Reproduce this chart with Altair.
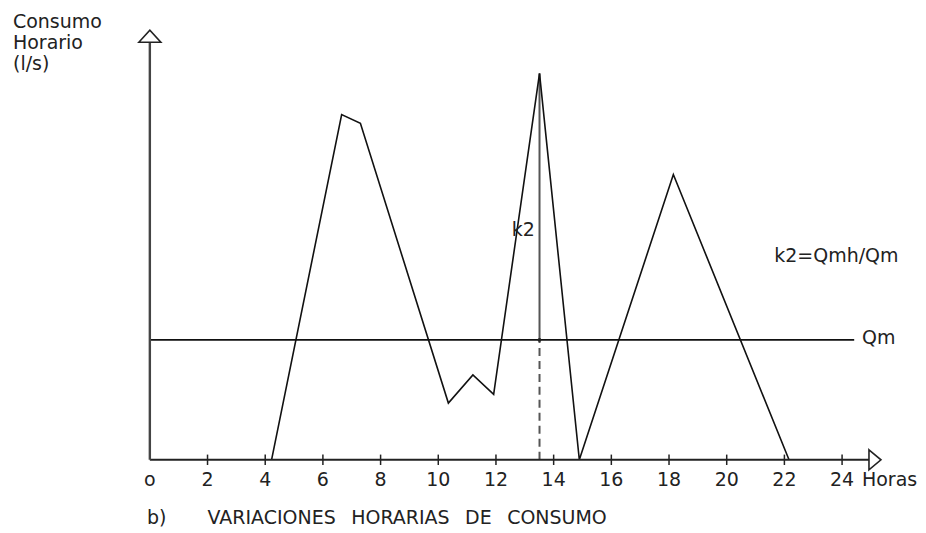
import altair as alt
import pandas as pd

# ---- data ----
HOURS = [4.22, 6.65, 7.30, 10.35, 11.20, 11.92, 13.51, 14.89, 18.15, 22.16]
CONSUMO = [0, 86.4, 84.2, 14.2, 21.25, 16.4, 96.7, 0, 71.4, 0]
QM = 30
PEAK_HOUR = 13.51
PEAK_VALUE = 96.7
TICK_HOURS = [2, 4, 6, 8, 10, 12, 14, 16, 18, 20, 22, 24]
LABEL_HOURS = [0, 2, 4, 6, 8, 10, 12, 14, 16, 18, 20, 22, 24]
LABEL_TEXT = ["o", "2", "4", "6", "8", "10", "12", "14", "16", "18", "20", "22", "24"]
Y_TITLE = ["Consumo", "Horario", "(l/s)"]
X_TITLE = "Horas"
CAPTION_LETTER = "b)"
CAPTION_WORDS = ["VARIACIONES", "HORARIAS", "DE", "CONSUMO"]

FONT = "DejaVu Sans"
FS = 19
INK = "#222222"

xs = alt.Scale(domain=[0, 24], nice=False, zero=False)
ys = alt.Scale(domain=[0, 100], nice=False, zero=False)


def xd(v):
    return alt.XDatum(v, type="quantitative", scale=xs, axis=None)


def yd(v):
    return alt.YDatum(v, type="quantitative", scale=ys, axis=None)


line_df = pd.DataFrame({"hora": HOURS, "consumo": CONSUMO})
tick_df = pd.DataFrame({"hora": TICK_HOURS})
lab_df = pd.DataFrame({"hora": LABEL_HOURS, "label": LABEL_TEXT})

base = alt.Chart(pd.DataFrame({"a": [0]}))

# axes
x_axis = base.mark_rule(color="#222", strokeWidth=2).encode(
    x=xd(0), x2=alt.X2Datum(24.94), y=yd(0))
y_axis = base.mark_rule(color="#444", strokeWidth=2.4).encode(
    x=xd(0), y=yd(0), y2=alt.Y2Datum(104.5))
x_arrow = base.mark_point(shape="M-0.6,-1L0.6,0L-0.6,1Z", size=400, filled=True,
                          fill="white", stroke="#222", strokeWidth=1.6, opacity=1).encode(
    x=xd(25.14), y=yd(0))
y_arrow = base.mark_point(shape="M-1,0.545L0,-0.545L1,0.545Z", size=484, filled=True,
                          fill="white", stroke="#222", strokeWidth=1.6, opacity=1).encode(
    x=xd(0), y=yd(106))

ticks = alt.Chart(tick_df).mark_rule(color="#222", strokeWidth=1.5).encode(
    x=alt.X("hora:Q", scale=xs, axis=None), y=yd(-1.3), y2=alt.Y2Datum(1.3))
tick_labels = alt.Chart(lab_df).mark_text(font=FONT, fontSize=FS, color=INK,
                                          baseline="middle", align="center").encode(
    x=alt.X("hora:Q", scale=xs, axis=None), y=yd(-5), text="label:N")

# consumption curve
curve = alt.Chart(line_df).mark_line(color="#111", strokeWidth=1.6).encode(
    x=alt.X("hora:Q", scale=xs, axis=None), y=alt.Y("consumo:Q", scale=ys, axis=None))

# Qm line and k2 vertical
qm_line = base.mark_rule(color="#111", strokeWidth=1.6).encode(
    x=xd(0), x2=alt.X2Datum(24.42), y=yd(QM))
k2_solid = base.mark_rule(color="#555", strokeWidth=2).encode(
    x=xd(PEAK_HOUR), y=yd(QM), y2=alt.Y2Datum(PEAK_VALUE))
k2_dash = base.mark_rule(color="#555", strokeWidth=2, strokeDash=[8, 5]).encode(
    x=xd(PEAK_HOUR), y=yd(0), y2=alt.Y2Datum(QM))
k2_dot = base.mark_circle(color="#222", size=14, opacity=1).encode(
    x=xd(PEAK_HOUR), y=yd(QM))

# texts
def txt(t, x, y, align="left", baseline="middle", **kw):
    return base.mark_text(text=t, font=FONT, fontSize=FS, color=INK, align=align,
                          baseline=baseline, **kw).encode(x=xd(x), y=yd(y))

y_title = txt(Y_TITLE, -4.745, 108, baseline="alphabetic", lineHeight=21)
k2_lab = txt("k2", 12.95, 57.5, align="center")
k2_eq = txt("k2=Qmh/Qm", 21.65, 51)
qm_lab = txt("Qm", 24.69, 30.5)
x_title = txt(X_TITLE, 24.69, -5)
cap_b = txt(CAPTION_LETTER, -0.1, -14.5)
cap = txt(" \u2002".join(CAPTION_WORDS), 2.0, -14.5)

chart = alt.layer(
    qm_line, k2_dash, k2_solid, curve, x_axis, y_axis, ticks, x_arrow, y_arrow, k2_dot,
    tick_labels, y_title, k2_lab, k2_eq, qm_lab, x_title, cap_b, cap,
).properties(
    width=693, height=400,
    padding={"left": 142, "top": 52, "right": 76, "bottom": 70},
    autosize=alt.AutoSizeParams(type="none"),
).configure_view(stroke=None)

chart.save("out.html", embed_options={"renderer": "svg", "actions": False})
